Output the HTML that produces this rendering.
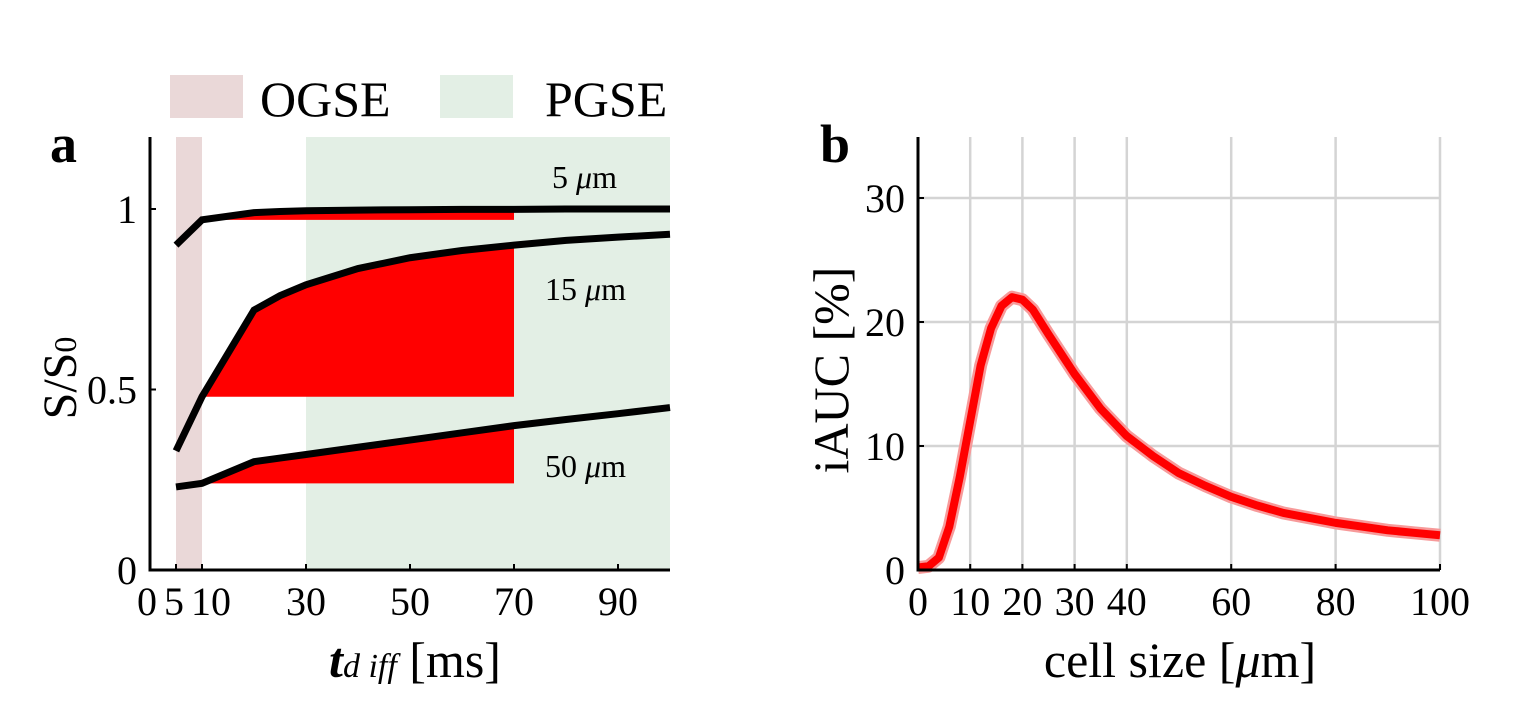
<!DOCTYPE html>
<html><head><meta charset="utf-8"><style>
body{margin:0;background:#fff}
svg text{font-family:"Liberation Serif",serif;fill:#000}
</style></head><body>
<svg width="1513" height="717" viewBox="0 0 1513 717" xmlns="http://www.w3.org/2000/svg">
<g id="a"></g>
<g id="b"></g>
</svg>
<script>
const NS="http://www.w3.org/2000/svg";
// Panel a data
const tdiff=[5,10,20,25,30,40,50,60,70,80,90,100];
const s5=[0.90,0.97,0.99,0.993,0.995,0.997,0.998,0.999,0.999,1.0,1.0,1.0];
const s15=[0.33,0.48,0.72,0.76,0.79,0.835,0.865,0.885,0.90,0.913,0.922,0.93];
const s50=[0.23,0.24,0.30,0.31,0.32,0.34,0.36,0.38,0.40,0.417,0.433,0.45];
const xTicksA=[0,5,10,30,50,70,90];
const yTicksA=[0,0.5,1];
// Panel b data
const cellSize=[0,2,4,6,8,10,12,14,16,18,20,22,25,30,35,40,45,50,55,60,65,70,75,80,85,90,95,100];
const iauc=[0.2,0.3,1,3.5,7.5,12,16.5,19.5,21.3,22,21.8,21,19,15.8,13,10.8,9.2,7.8,6.8,5.9,5.2,4.6,4.2,3.8,3.5,3.2,3.0,2.8];
const xTicksB=[0,10,20,30,40,60,80,100];
const yTicksB=[0,10,20,30];

function el(tag,attrs,parent,txt){const e=document.createElementNS(NS,tag);for(const k in attrs)e.setAttribute(k,attrs[k]);if(txt!==undefined)e.textContent=txt;parent.appendChild(e);return e;}
const A=document.getElementById('a'),B=document.getElementById('b');
const xa=v=>150+v*5.2, ya=v=>570-v*361;
const xb=v=>918+v*5.22, yb=v=>570-v*12.4;

let r=el('rect',{x:xa(5),y:137,width:xa(10)-xa(5),height:433,fill:'#ead8d8'},A);

r=el('rect',{x:xa(30),y:137,width:xa(100)-xa(30),height:433,fill:'#e3efe5'},A);

r=el('rect',{x:170,y:75,width:73,height:43,fill:'#ead8d8'},A);

let t=el('text',{x:260,y:116,'font-size':50},A,'OGSE');

r=el('rect',{x:440,y:75,width:73,height:43,fill:'#e3efe5'},A);

t=el('text',{x:545,y:116,'font-size':50},A,'PGSE');


function fillArea(series,name){
  const base=series[tdiff.indexOf(10)];
  let pts=[];
  tdiff.forEach((x,i)=>{if(x>=10&&x<=70)pts.push(xa(x)+','+ya(series[i]));});
  pts.push(xa(70)+','+ya(base));pts.push(xa(10)+','+ya(base));
  const p=el('polygon',{points:pts.join(' '),fill:'#ff0000'},A);
  
}
fillArea(s5,'fill-5um');fillArea(s15,'fill-15um');fillArea(s50,'fill-50um');
function line(series,name){
  const p=el('polyline',{points:tdiff.map((x,i)=>xa(x)+','+ya(series[i])).join(' '),fill:'none',stroke:'#000','stroke-width':7},A);
  
}
line(s5,'curve-5um');line(s15,'curve-15um');line(s50,'curve-50um');
[['5 ',552,188,'label-5um'],['15 ',545,300,'label-15um'],['50 ',545,477,'label-50um']].forEach(d=>{
  const e=el('text',{x:d[1],y:d[2],'font-size':32},A);
  e.innerHTML=d[0]+'<tspan font-style="italic">μ</tspan>m';
  
});
let ax=el('path',{d:`M150 137 V570 H670`,fill:'none',stroke:'#000','stroke-width':3},A);

xTicksA.forEach(v=>{el('line',{x1:xa(v),x2:xa(v),y1:570,y2:564,stroke:'#000','stroke-width':2},A);
  const off=v===10?9:(v===5?-2:(v===0?-3:0));
  const e=el('text',{x:xa(v)+off,y:615,'font-size':40,'text-anchor':'middle'},A,String(v));
  });
yTicksA.forEach(v=>{el('line',{x1:150,x2:156,y1:ya(v),y2:ya(v),stroke:'#000','stroke-width':2},A);
  const e=el('text',{x:137,y:ya(v)+14,'font-size':40,'text-anchor':'end'},A,String(v));
  });
t=el('text',{x:0,y:0,'font-size':48,transform:'translate(76 378) rotate(-90)','text-anchor':'middle'},A);
t.innerHTML='S/S<tspan font-size="32">0</tspan>';

t=el('text',{x:415,y:677,'font-size':50,'text-anchor':'middle'},A);
t.innerHTML='<tspan font-style="italic" font-weight="bold">t</tspan><tspan font-style="italic" font-size="34">d iff</tspan>  [ms]';

t=el('text',{x:50,y:162,'font-size':54,'font-weight':'bold'},A,'a');


xTicksB.forEach(v=>{if(v>0){const g=el('line',{x1:xb(v),x2:xb(v),y1:137,y2:570,stroke:'#d4d4d4','stroke-width':2.5},B);
  }});
yTicksB.forEach(v=>{if(v>0){const g=el('line',{x1:918,x2:1440,y1:yb(v),y2:yb(v),stroke:'#d4d4d4','stroke-width':2.5},B);
  }});
const pts=cellSize.map((x,i)=>xb(x)+','+yb(iauc[i])).join(' ');
let band=el('polyline',{points:pts,fill:'none',stroke:'#f79a9a','stroke-width':13,'stroke-linejoin':'round'},B);

let ln=el('polyline',{points:pts,fill:'none',stroke:'#ff0000','stroke-width':8,'stroke-linejoin':'round'},B);

ax=el('path',{d:`M918 137 V570 H1440`,fill:'none',stroke:'#000','stroke-width':3},B);

xTicksB.forEach(v=>{el('line',{x1:xb(v),x2:xb(v),y1:570,y2:564,stroke:'#000','stroke-width':2},B);
  const e=el('text',{x:xb(v),y:615,'font-size':40,'text-anchor':'middle'},B,String(v));
  });
yTicksB.forEach(v=>{el('line',{x1:918,x2:924,y1:yb(v),y2:yb(v),stroke:'#000','stroke-width':2},B);
  const e=el('text',{x:905,y:yb(v)+14,'font-size':40,'text-anchor':'end'},B,String(v));
  });
t=el('text',{x:0,y:0,'font-size':50,transform:'translate(848 370) rotate(-90)','text-anchor':'middle'},B,'iAUC [%]');

t=el('text',{x:1180,y:677,'font-size':50,'text-anchor':'middle'},B);
t.innerHTML='cell size [<tspan font-style="italic">μ</tspan>m]';

t=el('text',{x:820,y:162,'font-size':54,'font-weight':'bold'},B,'b');

</script>
</body></html>
